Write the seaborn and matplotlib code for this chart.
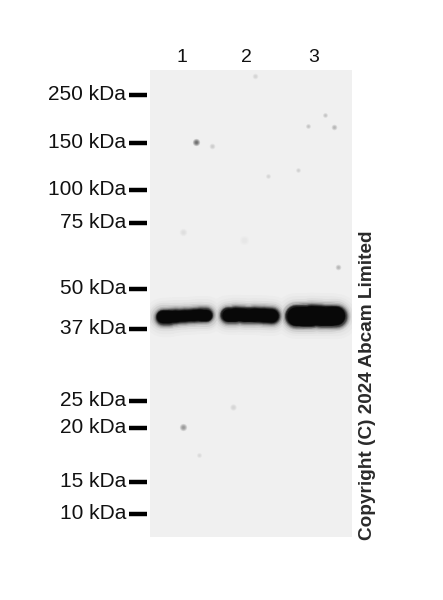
import matplotlib
matplotlib.use('Agg')
import pandas as pd
import seaborn as sns
import matplotlib.pyplot as plt
from matplotlib.transforms import ScaledTranslation

# marker ladder (migration = distance down the image)
marker_labels = ['250 kDa', '150 kDa', '100 kDa', '75 kDa', '50 kDa',
                 '37 kDa', '25 kDa', '20 kDa', '15 kDa', '10 kDa']
marker_migration = [94.5, 142.5, 190, 222.5, 289, 329, 401, 427.5, 481.5, 514]

lane_labels = ['1', '2', '3']
lane_centres = [182, 246, 314]

# band traces per lane
lane1_x = [163, 169, 176, 185, 194, 201, 206]
lane1_y = [317, 317, 316.5, 316, 315.5, 315, 315]
lane1_h = [16.5, 16, 15, 14.5, 14.5, 15, 15]
lane2_x = [228, 235, 244, 254, 264, 272]
lane2_y = [314.5, 314.5, 315, 315, 315.5, 316]
lane2_h = [16.5, 16.5, 16.5, 16.5, 17, 17]
lane3_x = [296, 303, 311, 321, 331, 336]
lane3_y = [315.5, 315.5, 315.5, 316, 316, 316]
lane3_h = [22.5, 23, 23, 22.5, 22.5, 22]

# specks on the membrane
speck_x = [196, 212, 182.5, 255, 308, 325, 334, 298, 268, 338, 233, 199, 183, 244]
speck_y = [142, 146, 427, 76, 126, 115, 127, 170, 176, 267, 407, 455, 232, 240]
speck_gray = [0.36, 0.78, 0.55, 0.82, 0.74, 0.74, 0.68, 0.8, 0.82, 0.68, 0.82, 0.84, 0.86, 0.9]
speck_r = [4.5, 3.5, 4.5, 3.5, 3, 3, 3.5, 3, 3, 3.5, 4, 3, 4.5, 5.5]

MEMBRANE = 0.94

sns.set_style('white')
plt.rcParams['font.family'] = ['Liberation Sans', 'DejaVu Sans']

fig = plt.figure(figsize=(4.43, 6), dpi=100)
ax = fig.add_axes([149.5 / 443, 1 - 537 / 600, 202.5 / 443, 467 / 600])
ax.set_facecolor(str(MEMBRANE))
ax.set_xlim(149.5, 352)
ax.set_ylim(537, 70)

px = 0.72  # points per pixel
lanes = [(lane1_x, lane1_y, lane1_h), (lane2_x, lane2_y, lane2_h), (lane3_x, lane3_y, lane3_h)]

# soft edge: opaque gray strokes stacked from wide/light to narrow/black, all lanes per level
for extra, gray in [(26, 0.925), (20, 0.905), (15, 0.87), (11, 0.81), (8, 0.72), (5.5, 0.58),
                    (3.5, 0.42), (2, 0.27), (0.5, 0.13), (-1, 0.03)]:
    for xs, ys, hs in lanes:
        for i in range(len(xs) - 1):
            seg = pd.DataFrame({'x': xs[i:i + 2], 'y': ys[i:i + 2]})
            w = (hs[i] + hs[i + 1]) / 2 + extra - 3
            sns.lineplot(data=seg, x='x', y='y', ax=ax, color=str(gray), linewidth=w * px,
                         solid_capstyle='round', estimator=None, sort=False)

specks = pd.DataFrame({'x': speck_x, 'y': speck_y, 'g': speck_gray, 'r': speck_r})
for _, s in specks.iterrows():
    for frac in [1.0, 0.8, 0.6, 0.42, 0.25]:
        shade = s.g + (MEMBRANE - s.g) * (frac ** 1.5)
        d = 2 * s.r * frac * px
        sns.scatterplot(x=[s.x], y=[s.y], ax=ax, color=str(shade), s=d ** 2,
                        linewidth=0, legend=False)

ax.set(xlabel='', ylabel='')
for side in ax.spines.values():
    side.set_visible(False)
ax.spines['left'].set_position(('outward', 1.8))

ax.set_yticks(marker_migration, labels=marker_labels)
ax.tick_params(axis='y', left=True, length=13.2, width=3.2, color='black', pad=2,
               labelsize=15, labelcolor='#111111')
nudge = ScaledTranslation(0, 1.5 / 72, fig.dpi_scale_trans)
for lab in ax.get_yticklabels():
    lab.set_transform(lab.get_transform() + nudge)

ax.xaxis.tick_top()
ax.set_xticks(lane_centres, labels=lane_labels)
ax.tick_params(axis='x', top=True, length=0, pad=3, labelsize=14, labelcolor='#111111')

ax.text(368, 385, 'Copyright (C) 2024 Abcam Limited', rotation=90, ha='center', va='center',
        fontsize=13.65, fontweight='bold', color='#2a2a2a', clip_on=False)

fig.savefig('out.png', dpi=100, facecolor='white')
